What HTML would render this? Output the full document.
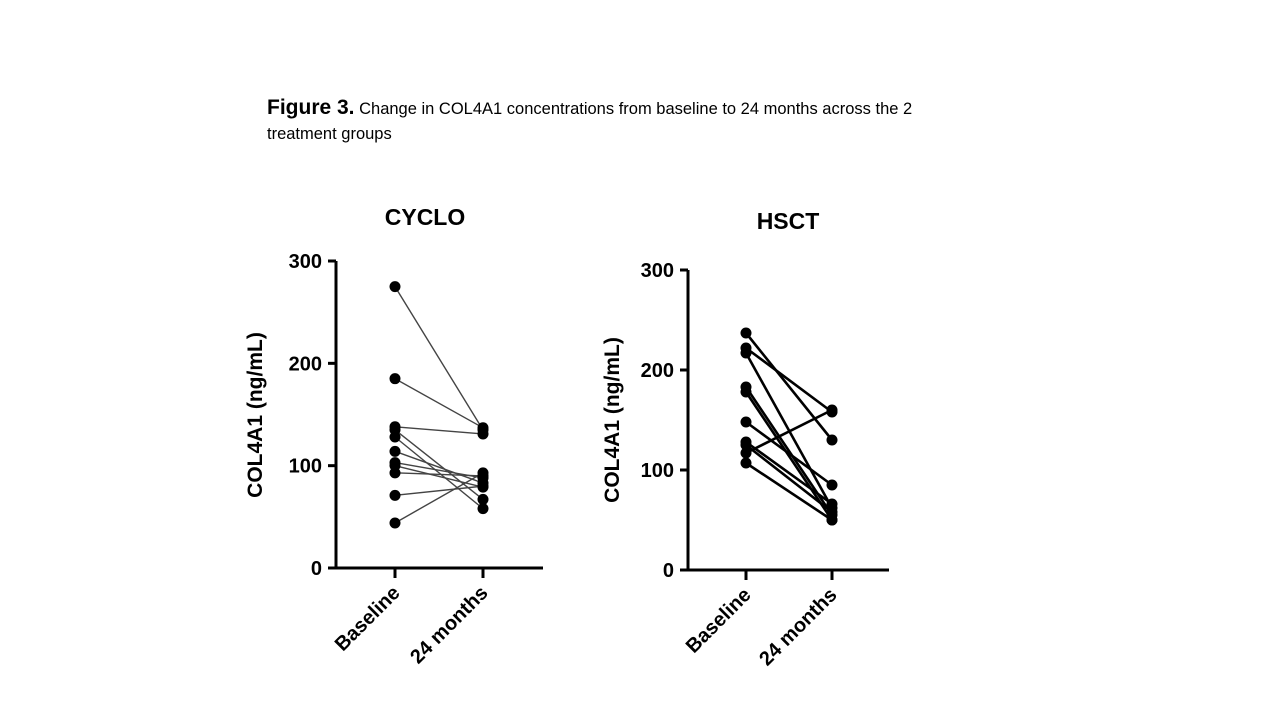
<!DOCTYPE html>
<html><head><meta charset="utf-8"><style>
body{margin:0;width:1280px;height:720px;background:#fff;overflow:hidden;font-family:"Liberation Sans",Arial,sans-serif}
#cap{position:absolute;left:267px;top:95px;width:705px;font-size:16.5px;line-height:25px;color:#000}
#cap b{font-size:21px}
</style></head><body>
<div id="cap"><b>Figure 3.</b> Change in COL4A1 concentrations from baseline to 24 months across the 2 treatment groups</div>
<svg id="svg" width="1280" height="720" style="position:absolute;left:0;top:0"></svg>
<script>
const categories=["Baseline","24 months"];
const yTicks=[0,100,200,300];
const cycloBase=[275,185,138,135,128,114,103,100,93,71,44];
const cyclo24=[135,137,131,67,58,83,88,79,90,80,93];
const hsctBase=[237,222,217,183,178,148,128,125,117,107];
const hsct24=[130,158,62,55,50,85,66,58,160,50];
const NS="http://www.w3.org/2000/svg";
const svg=document.getElementById('svg');
function mk(t,a,txt){const e=document.createElementNS(NS,t);for(const k in a)e.setAttribute(k,a[k]);if(txt!=null)e.textContent=txt;svg.appendChild(e);return e;}
function panel(p){
  const y=v=>p.y0-(v/300)*(p.y0-p.y300);
  const xs=[p.xb,p.xm];
  let t=mk('text',{x:p.tx,y:p.ty,'text-anchor':'middle','font-size':23,'font-weight':'bold'},p.title);
  
  let ax=mk('line',{x1:p.ax,y1:p.y300,x2:p.ax,y2:p.y0+1.5,stroke:'#000','stroke-width':3});
  
  let xa=mk('line',{x1:p.ax-1.5,y1:p.y0,x2:p.xe,y2:p.y0,stroke:'#000','stroke-width':3});
  
  yTicks.forEach(v=>{
    mk('line',{x1:p.ax-8,y1:y(v),x2:p.ax,y2:y(v),stroke:'#000','stroke-width':3});
    let l=mk('text',{x:p.ax-14,y:y(v)+7,'text-anchor':'end','font-size':20,'font-weight':'bold'},v);
    
  });
  categories.forEach((c,i)=>{
    mk('line',{x1:xs[i],y1:p.y0,x2:xs[i],y2:p.y0+10,stroke:'#000','stroke-width':3});
    let l=mk('text',{x:xs[i]+6,y:p.y0+26,'text-anchor':'end','font-size':20,'font-weight':'bold',transform:`rotate(-45 ${xs[i]+6} ${p.y0+26})`},c);
    
  });
  let yt=mk('text',{x:0,y:0,'text-anchor':'middle','font-size':21,'font-weight':'bold',transform:`translate(${p.ytx},${p.yty}) rotate(-90)`},'COL4A1 (ng/mL)');
  
  p.a.forEach((v,i)=>{
    let ln=mk('line',{x1:xs[0],y1:y(v),x2:xs[1],y2:y(p.b[i]),stroke:p.lc,'stroke-width':p.lw});
    
  });
  p.a.forEach((v,i)=>{
    let c1=mk('circle',{cx:xs[0],cy:y(v),r:5.5,fill:'#000'});
    
    let c2=mk('circle',{cx:xs[1],cy:y(p.b[i]),r:5.5,fill:'#000'});
    
  });
}
panel({id:'cyclo',title:'CYCLO',tx:425,ty:225,ax:336,y0:568,y300:261,xe:543,xb:395,xm:483,ytx:262,yty:415,a:cycloBase,b:cyclo24,lc:'#444',lw:1.4});
panel({id:'hsct',title:'HSCT',tx:788,ty:229,ax:688,y0:570,y300:270,xe:889,xb:746,xm:832,ytx:619,yty:420,a:hsctBase,b:hsct24,lc:'#000',lw:2.6});
</script>
</body></html>
